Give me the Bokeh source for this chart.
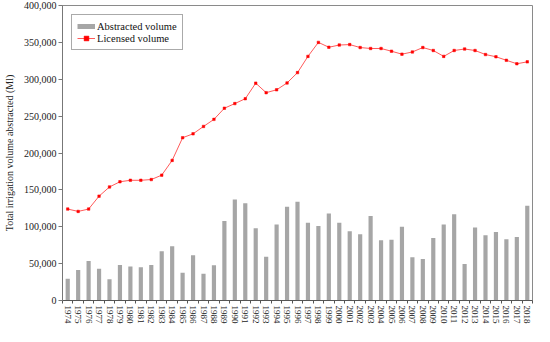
import math
from bokeh.plotting import figure
from bokeh.models import (FixedTicker, NumeralTickFormatter, Range1d, Legend,
                          LegendItem, ColumnDataSource)
from bokeh.embed import file_html
from bokeh.resources import INLINE

years = list(range(1974, 2019))
abstracted = [29500, 41500, 53500, 43000, 28700, 48000, 46000, 45000, 48300, 66700,
              73500, 37600, 61500, 36300, 47900, 107700, 136800, 132000, 97800, 59400,
              103000, 127000, 133800, 105500, 101000, 118000, 105500, 94000, 90000, 114500,
              81600, 82500, 100000, 58500, 56400, 84600, 103000, 117000, 49600, 99000,
              88500, 93000, 83000, 86000, 128600]
licensed = [124000, 120800, 124000, 141500, 154000, 161000, 163000, 163000, 164000, 170000,
            190000, 220700, 226000, 236000, 245600, 260700, 267000, 273600, 294700, 281800,
            285700, 295000, 309000, 331000, 350000, 343400, 346400, 347000, 343000, 341700,
            341700, 338000, 334000, 337000, 343000, 339000, 331000, 339000, 341000, 339000,
            333500, 330500, 325700, 321000, 323600]
y_ticks = list(range(0, 400001, 50000))

FONT = "Liberation Serif"
src = ColumnDataSource(dict(year=years, abstracted=abstracted, licensed=licensed))

p = figure(width=534, height=326, output_backend="svg", toolbar_location=None,
           x_range=Range1d(1973.5, 2018.5), y_range=Range1d(0, 400000),
           min_border_left=10, min_border_right=2, min_border_top=5, min_border_bottom=0)
p.xgrid.visible = False
p.ygrid.visible = False
p.outline_line_color = "#8a8a8a"
p.outline_line_width = 1
p.background_fill_color = "white"

p.vbar(x="year", top="abstracted", width=0.4, source=src,
       fill_color="#a6a6a6", line_color=None)
lr = p.line("year", "licensed", source=src, line_color="#ff5a5a", line_width=1)
sr = p.scatter("year", "licensed", source=src, marker="square", size=2.5,
               fill_color="#ff0000", line_color="#ff0000", line_width=0.5)
# legend swatch (drawn outside the visible x range, only used by the legend)
proxy = p.line(x=[1900, 1901], y=[0, 0], line_color="#a6a6a6", line_width=5)

legend = Legend(items=[LegendItem(label="Abstracted volume", renderers=[proxy]),
                       LegendItem(label="Licensed volume", renderers=[lr, sr])],
                location="top_left", margin=9, padding=5, spacing=0,
                label_text_font=FONT, label_text_font_size="10.5px",
                label_text_color="#111111", label_height=12, label_standoff=2,
                glyph_width=18, glyph_height=12,
                border_line_color="#555555", border_line_width=1,
                background_fill_alpha=1)
p.add_layout(legend)

xa = p.xaxis[0]
xa.ticker = FixedTicker(ticks=years, minor_ticks=[y - 0.5 for y in years] + [years[-1] + 0.5])
xa.major_tick_out = 0
xa.major_tick_in = 0
xa.minor_tick_out = 3
xa.minor_tick_in = 0
xa.major_label_orientation = -math.pi / 2
xa.major_label_standoff = 2
xa.major_label_text_font = FONT
xa.major_label_text_font_size = "9px"
xa.major_label_text_color = "#222222"
xa.axis_line_color = "#555555"
xa.minor_tick_line_color = "#555555"

ya = p.yaxis[0]
ya.ticker = FixedTicker(ticks=y_ticks)
ya.formatter = NumeralTickFormatter(format="0,0")
ya.major_tick_out = 4
ya.major_tick_in = 0
ya.minor_tick_line_color = None
ya.major_label_standoff = 2
ya.major_label_text_font = FONT
ya.major_label_text_font_size = "10px"
ya.major_label_text_color = "#222222"
ya.axis_line_color = "#777777"
ya.major_tick_line_color = "#777777"
ya.axis_label = "Total irrigation volume abstracted (Ml)"
ya.axis_label_text_font = FONT
ya.axis_label_text_font_style = "normal"
ya.axis_label_text_font_size = "10px"
ya.axis_label_text_color = "#222222"
ya.axis_label_standoff = 6

open("out.html", "w").write(file_html(p, INLINE))
